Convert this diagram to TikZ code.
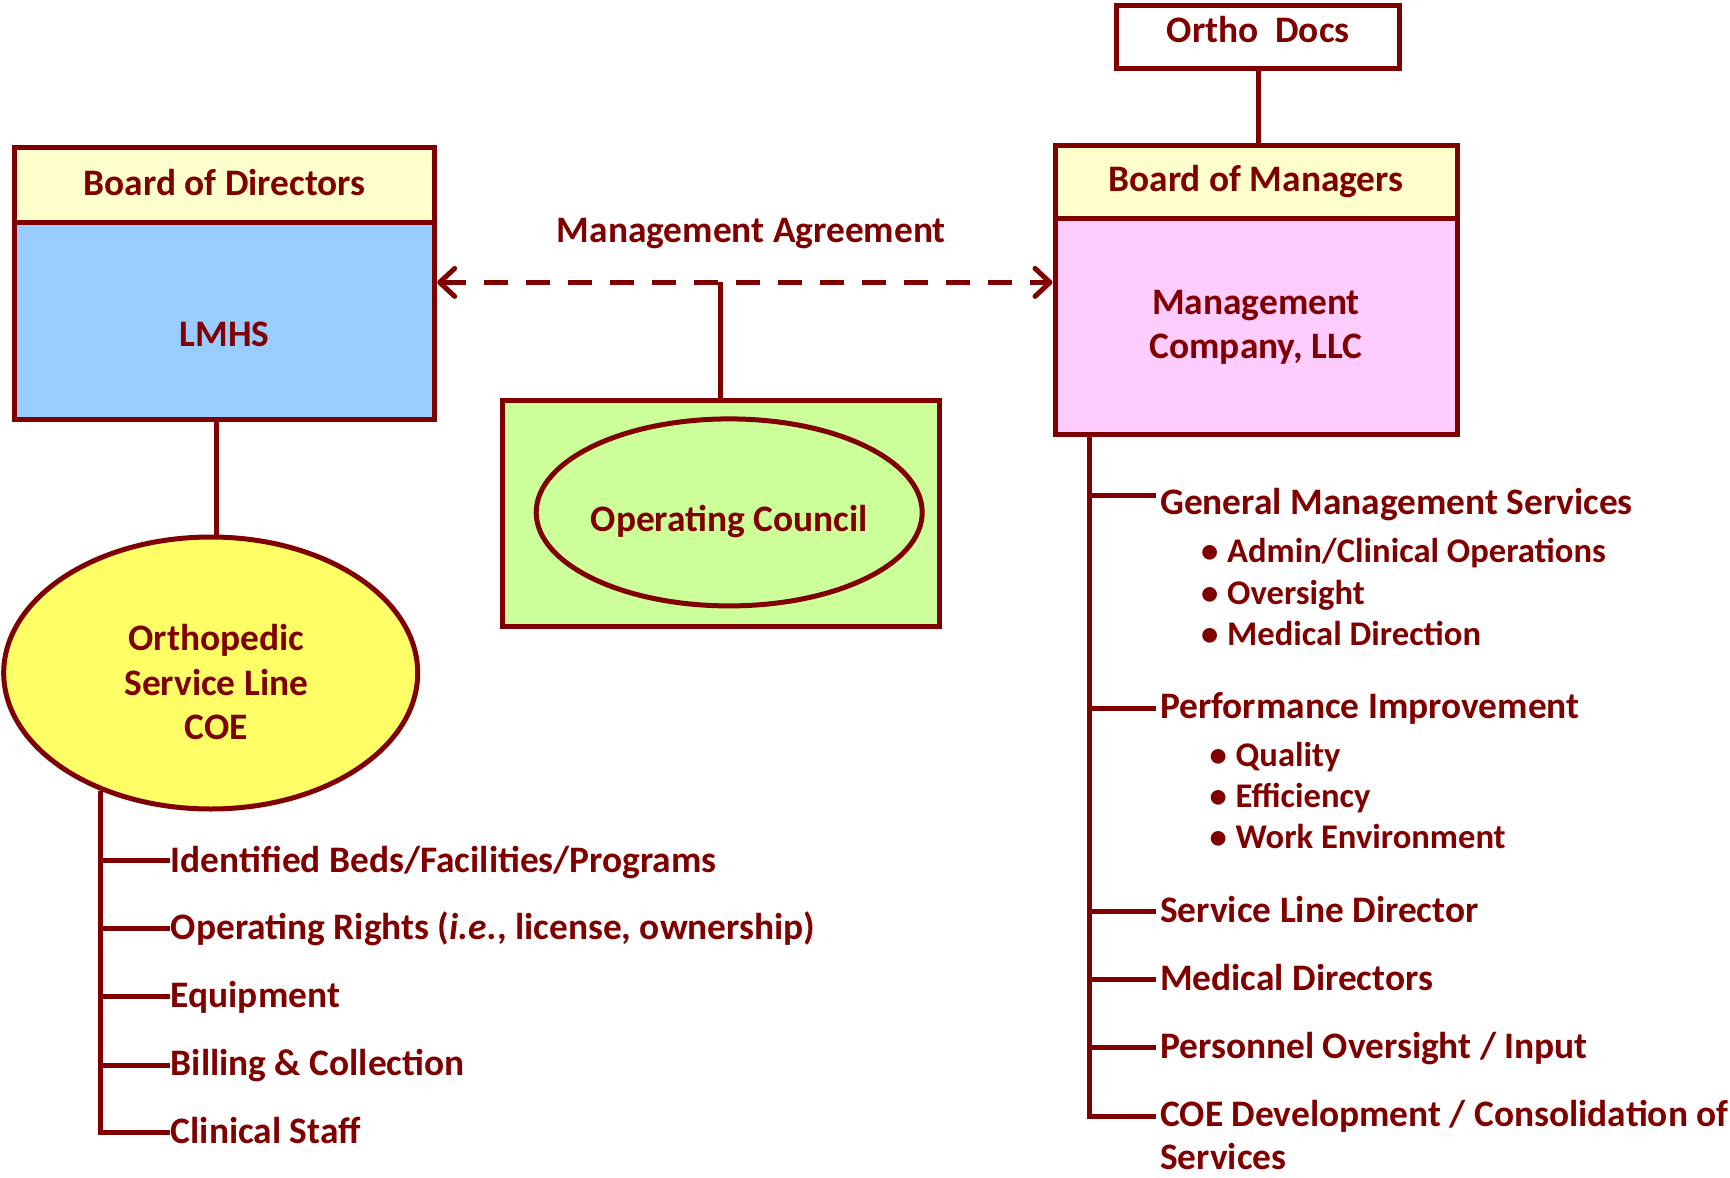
\documentclass[tikz,border=0pt]{standalone}
\usepackage{fontspec}
\setmainfont{Carlito}
\usetikzlibrary{arrows.meta,shapes.geometric}
\definecolor{deepred}{HTML}{800000}
\definecolor{hdr}{HTML}{FFFFCC}
\definecolor{skyfill}{HTML}{99CCFF}
\definecolor{pinkfill}{HTML}{FFCCFF}
\definecolor{limefill}{HTML}{CCFF99}
\definecolor{lemonfill}{HTML}{FFFF66}
\newcommand\labelfont{\fontsize{37.4}{45}\selectfont\bfseries}
\newcommand\subfont{\fontsize{34.6}{42}\selectfont\bfseries}
\newcommand\bul{\makebox[26pt][l]{\textbullet}}
\begin{document}
\begin{tikzpicture}[x=1pt,y=-1pt,
  frame/.style={draw=deepred, line width=5pt, rectangle, inner sep=0pt},
  oval/.style={draw=deepred, line width=5pt, ellipse, inner sep=0pt},
  wire/.style={draw=deepred, line width=5pt},
  txt/.style={text=deepred, font=\labelfont, inner sep=0pt, anchor=base},
  item/.style={text=deepred, font=\labelfont, inner sep=0pt, anchor=base west},
  subitem/.style={item, font=\subfont},
  agreement/.style={wire, dash pattern=on 24pt off 18pt,
    {Straight Barb[length=15pt,width=28pt,round]}-{Straight Barb[length=15pt,width=28pt,round]}}
]
\useasboundingbox[fill=white] (0,0) rectangle (1730,1178);

% ---- LMHS side ----
\node[frame, fill=hdr, minimum width=420pt, minimum height=74.3pt] (bod) at (224.7,184.85) {};
\node[frame, fill=skyfill, minimum width=420pt, minimum height=197.7pt] (lmhs) at (224.7,320.85) {};
\node[txt] (bodt) at (224.7,195.7) {Board of Directors};
\node[txt] (lmhst) at (224.7,346.7) {LMHS};

\node[oval, fill=lemonfill, minimum width=414pt, minimum height=272pt] (coe) at (210.7,673) {};
\node[txt] (coet1) at (216.3,650) {Orthopedic};
\node[txt] (coet2) at (216.3,695) {Service Line};
\node[txt] (coet3) at (216.3,739.3) {COE};

\draw[wire] ([xshift=-8pt]lmhs.south) -- ([xshift=-8pt]lmhs.south |- coe.north);

% ---- Management company side ----
\node[frame, fill=white, minimum width=283pt, minimum height=63pt] (docs) at (1258.2,36.8) {};
\node[txt] (docst) at (1258.2,42.7) {Ortho\ \ Docs};
\node[frame, fill=hdr, minimum width=402pt, minimum height=73.4pt] (bom) at (1256,182) {};
\node[frame, fill=pinkfill, minimum width=402pt, minimum height=215.3pt] (mc) at (1256,326.35) {};
\node[txt] (bomt) at (1256,191.7) {Board of Managers};
\node[txt] (mct1) at (1256,314.7) {Management};
\node[txt] (mct2) at (1256,358.5) {Company, LLC};

\draw[wire] (docs.south) -- (docs.south |- bom.north);

% ---- Operating council ----
\node[frame, fill=limefill, minimum width=437pt, minimum height=226pt] (oc) at (720.5,513.6) {};
\node[oval, fill=limefill, minimum width=386pt, minimum height=187pt] (ocell) at (729.2,512.4) {};
\node[txt] (oct) at (729.3,531.7) {Operating Council};

% ---- Management agreement ----
\node[txt] (agrt) at (751.4,242.7) {Management Agreement};
\coordinate (agr) at (720.5,282.4);
\draw[agreement] (agr -| lmhs.east) -- (agr -| mc.west);
\draw[wire] (oc.north) -- (oc.north |- agr);

% ---- Items held by the service line ----
\coordinate (lb1) at (170,860.7);
\coordinate (lb2) at (170,928.5);
\coordinate (lb3) at (170,996.7);
\coordinate (lb4) at (170,1065);
\coordinate (lb5) at (170,1132.5);
\draw[wire] (coe.227) |- (lb5);
\foreach \b in {lb1,lb2,lb3,lb4} \draw[wire] (coe.227 |- \b) -- (\b);
\node[item] (li1) at (170.7,872) {Identified Beds/Facilities/Programs};
\node[item] (li2) at (170.7,939.6) {Operating Rights (\textit{i.e.}, license, ownership)};
\node[item] (li3) at (170.7,1007.3) {Equipment};
\node[item] (li4) at (170.7,1075.3) {Billing \& Collection};
\node[item] (li5) at (170.7,1143.3) {Clinical Staff};

% ---- Services of the management company ----
\coordinate (rtop) at (1089,436);
\coordinate (rb1) at (1156,495.5);
\coordinate (rb2) at (1156,708);
\coordinate (rb3) at (1156,911.6);
\coordinate (rb4) at (1156,979.2);
\coordinate (rb5) at (1156,1047);
\coordinate (rb6) at (1156,1116);
\draw[wire] (rtop) |- (rb6);
\foreach \b in {rb1,rb2,rb3,rb4,rb5} \draw[wire] (rtop |- \b) -- (\b);
\node[item] (ri1) at (1160,514.5) {General Management Services};
\node[subitem] (ri1a) at (1201,562) {\bul Admin/Clinical Operations};
\node[subitem] (ri1b) at (1201,604) {\bul Oversight};
\node[subitem] (ri1c) at (1201,645) {\bul Medical Direction};
\node[item] (ri2) at (1160,718.3) {Performance Improvement};
\node[subitem] (ri2a) at (1209.5,766.7) {\bul Quality};
\node[subitem] (ri2b) at (1209.5,807) {\bul Efficiency};
\node[subitem] (ri2c) at (1209.5,848.3) {\bul Work Environment};
\node[item] (ri3) at (1160,922.7) {Service Line Director};
\node[item] (ri4) at (1160,990) {Medical Directors};
\node[item] (ri5) at (1160,1058.3) {Personnel Oversight / Input};
\node[item] (ri6) at (1160,1126.7) {COE Development / Consolidation of};
\node[item] (ri6b) at (1160,1169) {Services};
\end{tikzpicture}
\end{document}
